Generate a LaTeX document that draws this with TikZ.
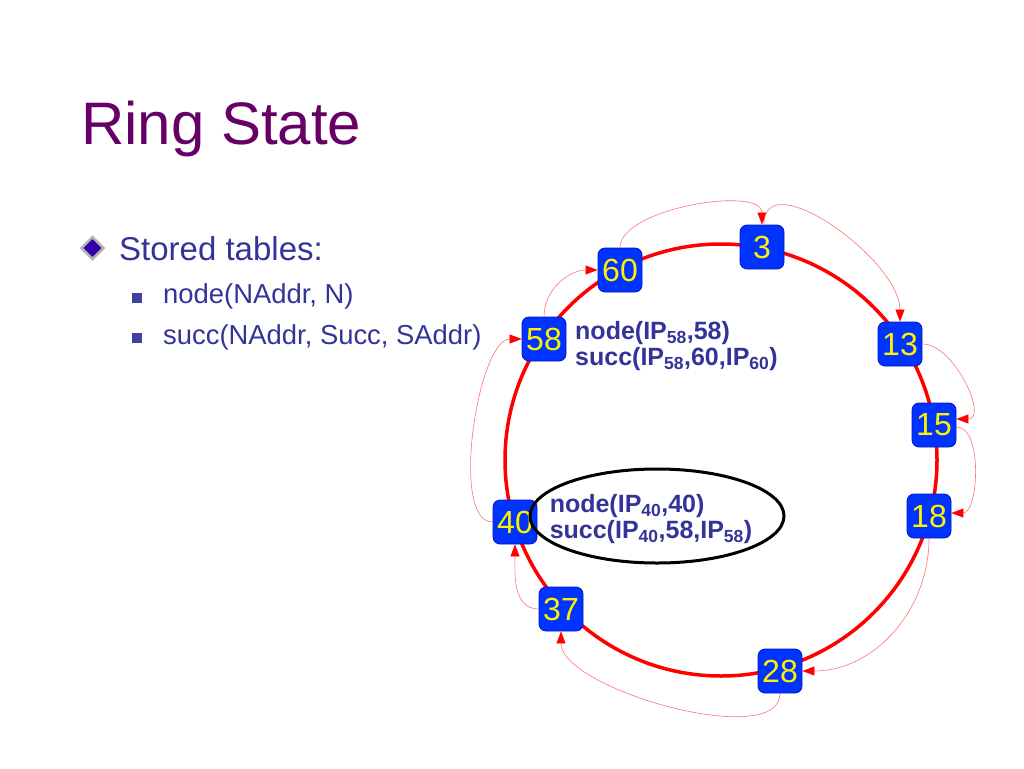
\documentclass[tikz,border=0pt]{standalone}
\usepackage{fontspec}
\setmainfont{Liberation Sans}
\usetikzlibrary{arrows.meta,shapes.geometric}

\definecolor{titlepurple}{RGB}{102,0,102}
\definecolor{textblue}{RGB}{51,51,153}
\definecolor{peerblue}{RGB}{0,51,255}
\definecolor{peeredge}{RGB}{0,25,190}
\definecolor{bulletblue}{RGB}{51,0,170}
\definecolor{squareblue}{RGB}{64,64,160}

\begin{document}
\begin{tikzpicture}[x=1pt,y=-1pt,
    peer/.style={fill=peerblue,draw=peeredge,line width=0.8pt,rounded corners=7pt,
        minimum size=44pt,inner sep=0pt,text=yellow,font=\fontsize{32}{32}\selectfont},
    ring/.style={red,line width=3.5pt},
    succptr/.style={draw=red!55,line width=0.6pt,-{Triangle[length=12pt,width=9pt,color=red]}},
    tuples/.style={text=textblue,font=\bfseries\fontsize{25}{26}\selectfont,align=left,inner sep=0pt},
    bodytext/.style={anchor=base west,inner sep=0pt,text=textblue},
    sqbullet/.style={fill=squareblue,minimum size=10pt,inner sep=0pt}]

    \useasboundingbox[fill=white] (0,0) rectangle (1024,768);

    % slide text
    \node[anchor=base west,inner sep=0pt,text=titlepurple,font=\fontsize{60}{60}\selectfont] (title) at (81,144) {Ring State};
    \node[diamond,fill=bulletblue,draw=gray!60,line width=2.5pt,minimum size=23pt,inner sep=0pt] (dia) at (92.5,248) {};
    \node[bodytext,font=\fontsize{33}{40}\selectfont] (stored) at (119,260) {Stored tables:};
    \node[sqbullet] (sq1) at (137,297.5) {};
    \node[sqbullet] (sq2) at (137,337.5) {};
    \node[bodytext,font=\fontsize{27.4}{32}\selectfont] (tnode) at (163,303) {node(NAddr, N)};
    \node[bodytext,font=\fontsize{27.4}{32}\selectfont] (tsucc) at (163,344) {succ(NAddr, Succ, SAddr)};

    % the ring
    \coordinate (hub) at (721,460);
    \draw[ring] (hub) circle (216pt);

    \foreach \id/\x/\y in {3/762/247, 13/900/344, 15/934/425, 18/929/516, 28/780/671,
                           37/561/609, 40/515/522, 58/544/339, 60/620/270}
        \node[peer] (n\id) at (\x,\y) {\id};

    % successor pointers
    \draw[succptr] (n58.north) to[out=90,in=180] (n60.west);
    \draw[succptr] (n60.north) to[out=90,in=90,looseness=0.7] (n3.north);
    \draw[succptr] ([xshift=2pt]n3.north) to[out=90,in=90,looseness=0.95] (n13.north);
    \draw[succptr] (n13.east) to[out=0,in=0] ([yshift=6pt]n15.east);
    \draw[succptr] ([yshift=-2pt]n15.east) to[out=0,in=0,looseness=0.8] ([yshift=3pt]n18.east);
    \draw[succptr] (n18.south) to[out=-90,in=0] (n28.east);
    \draw[succptr] (n28.south) to[out=-90,in=-90,looseness=0.65] (n37.south);
    \draw[succptr] (n37.west) to[out=180,in=-90] (n40.south);
    \draw[succptr] (n40.west) to[out=180,in=180,looseness=0.6] (n58.west);

    % tables of two nodes
    \node[tuples,anchor=west] (tab58) at (575,346)
        {node(IP\textsubscript{58},58)\\succ(IP\textsubscript{58},60,IP\textsubscript{60})};
    \node[tuples] (tab40) at (651,519)
        {node(IP\textsubscript{40},40)\\succ(IP\textsubscript{40},58,IP\textsubscript{58})};
    \draw[line width=3pt] ([xshift=6pt,yshift=3pt]tab40.center) ellipse [x radius=127pt,y radius=47pt];
    % \node at (hub) {ring};
\end{tikzpicture}
\end{document}
